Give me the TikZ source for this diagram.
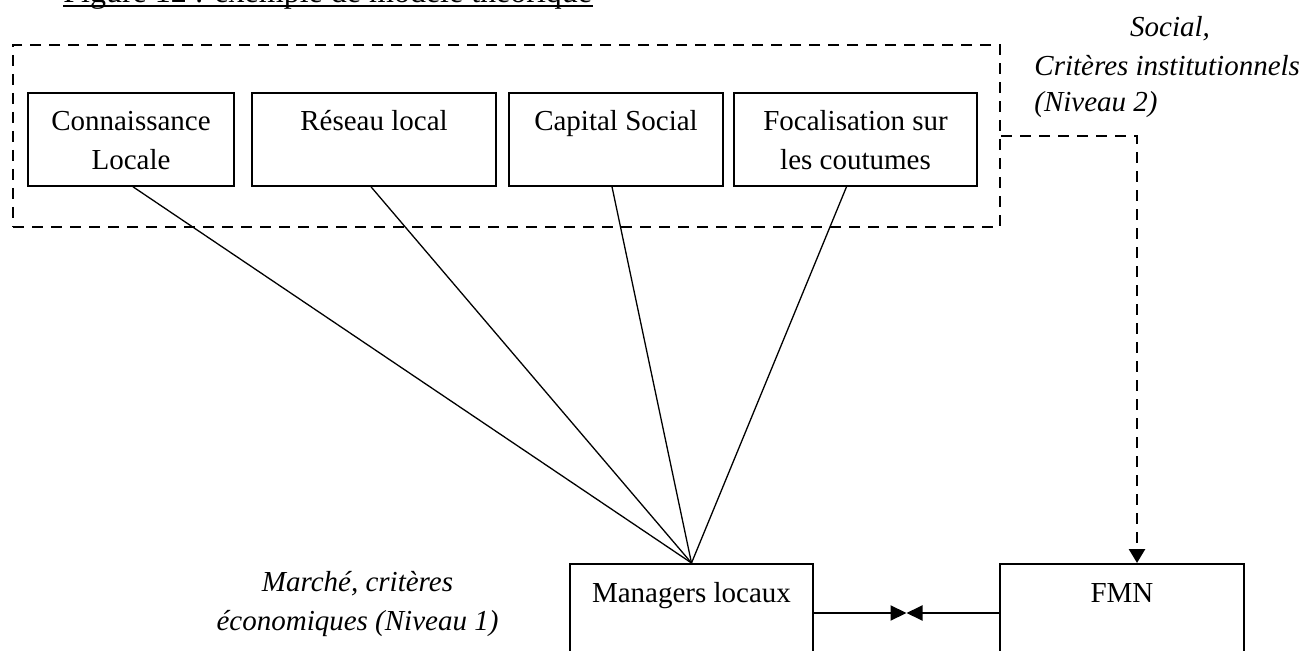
\documentclass[tikz,border=0pt]{standalone}
\usepackage{fontspec}
\setmainfont{Liberation Serif}
\usetikzlibrary{arrows.meta,calc}

\newcommand{\stacktwo}[2]{\begin{tabular}[t]{@{}c@{}}#1\\#2\end{tabular}}

\tikzset{
  basefont/.style={font=\fontsize{14.5}{19.5}\selectfont},
  factorbox/.style={draw, line width=0.9pt, inner sep=0pt, anchor=north},
  actorbox/.style={draw, line width=0.9pt, inner sep=0pt, anchor=north,
    minimum height=70pt},
  boxtext/.style={basefont, inner sep=0pt, anchor=base},
  levellabel/.style={basefont, inner sep=0pt, anchor=base, font=\fontsize{14.5}{19.5}\selectfont\itshape},
  grouping/.style={draw, dash pattern=on 5.5pt off 4pt, line width=1.35pt, inner sep=0pt},
  link/.style={line width=0.65pt},
  dashlink/.style={dash pattern=on 5.5pt off 4pt, line width=1.35pt,
    -{Triangle[length=7pt,width=8pt]}},
  solidarrow/.style={line width=1pt, -{Triangle[length=8pt,width=7.5pt]}},
}

\begin{document}
\begin{tikzpicture}[x=0.5pt,y=-0.5pt]
\useasboundingbox (0,0) rectangle (1309,651);
\clip (0,0) rectangle (1309,651);

% caption (cut by the page top)
\node[inner sep=0pt, anchor=base west, font=\fontsize{16}{19}\selectfont] (title) at (63,3)
  {Figure 12 : exemple de modèle théorique};
\draw[line width=1pt] ([yshift=-1.6pt]title.base west) -- ([yshift=-1.6pt]title.base east);

% level 2 grouping frame
\node[grouping, minimum width=493.5pt, minimum height=91pt] (grp) at (506.5,136) {};

% factor boxes
\node[factorbox, minimum width=103pt,   minimum height=46.5pt] (b1) at (131,92) {};
\node[factorbox, minimum width=122pt,   minimum height=46.5pt] (b2) at (374,92) {};
\node[factorbox, minimum width=107pt,   minimum height=46.5pt] (b3) at (616,92) {};
\node[factorbox, minimum width=121.5pt, minimum height=46.5pt] (b4) at (855.5,92) {};

\node[boxtext] (t1) at (131,130.5) {\stacktwo{Connaissance}{Locale}};
\node[boxtext] (t2) at (374,130.5) {Réseau local};
\node[boxtext] (t3) at (616,130.5) {Capital Social};
\node[boxtext] (t4) at (855.5,130.5) {\stacktwo{Focalisation sur}{les coutumes}};

% actors
\node[actorbox, minimum width=121.5pt] (mgr) at (691.5,563) {};
\node[actorbox, minimum width=122pt]   (fmn) at (1122,563) {};
\node[boxtext] (tm) at (691.5,602) {Managers locaux};
\node[boxtext] (tf) at (1122,602) {FMN};

% level labels
\node[levellabel] (l2a) at (1170,37) {Social,};
\node[levellabel, anchor=base west] (l2b) at (1034,76) {Critères institutionnels};
\node[levellabel, anchor=base west] (l2c) at (1034,112) {(Niveau 2)};
\node[levellabel] (l1) at (357.5,591) {\stacktwo{Marché, critères}{économiques (Niveau 1)}};

% links from the factors to the local managers
\draw[link] ([xshift=1pt]b1.south) -- (mgr.north);
\draw[link] ([xshift=-1.5pt]b2.south) -- (mgr.north);
\draw[link] ([xshift=-2pt]b3.south) -- (mgr.north);
\draw[link] ([xshift=-4.5pt]b4.south) -- (mgr.north);

% institutional influence on the FMN
\draw[dashlink] (grp.east) -| ([xshift=7.5pt]fmn.north);

% mutual relation between actors
\coordinate (meet) at (906.5,613);
\draw[solidarrow] (mgr.east |- meet) -- (meet);
\draw[solidarrow] (fmn.west |- meet) -- (meet);
\end{tikzpicture}
\end{document}
